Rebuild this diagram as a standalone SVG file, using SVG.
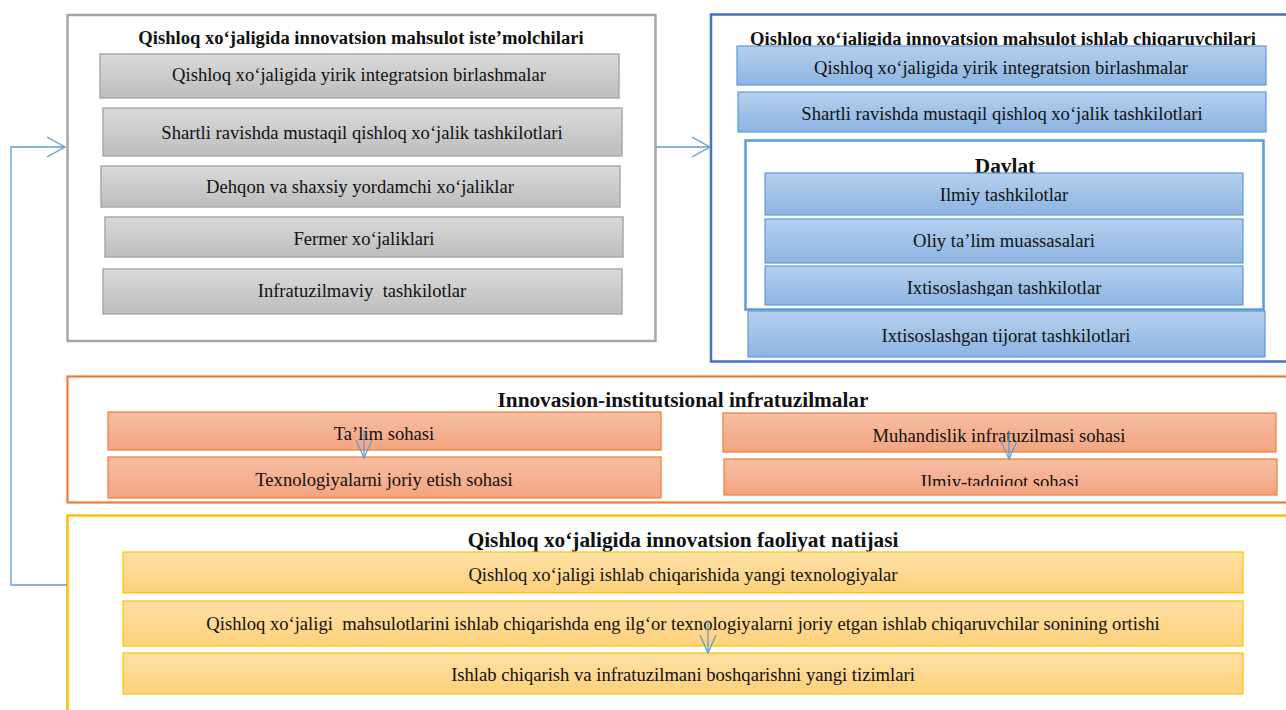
<svg xmlns="http://www.w3.org/2000/svg" width="1286" height="710" viewBox="0 0 1286 710">
<style>
text{font-family:"Liberation Serif","Times New Roman",serif;fill:#111;text-anchor:middle}
.t{font-size:18.6px}
.h{font-size:18.6px;font-weight:bold}
.H{font-size:21.3px;font-weight:bold}
.gray{fill:url(#gG);stroke:#a9a9a9;stroke-width:1.5}
.blue{fill:url(#gB);stroke:#5b9bd5;stroke-width:1.2}
.or{fill:url(#gO);stroke:#ed7d31;stroke-width:1.2}
.ye{fill:url(#gY);stroke:#ffc000;stroke-width:1.2}
.con{fill:none;stroke:#5b9bd5;stroke-width:1.3}
</style>
<defs>
<linearGradient id="gG" x1="0" y1="0" x2="0" y2="1"><stop offset="0" stop-color="#dadada"/><stop offset="1" stop-color="#bdbdbd"/></linearGradient>
<linearGradient id="gB" x1="0" y1="0" x2="0" y2="1"><stop offset="0" stop-color="#b5cfee"/><stop offset="1" stop-color="#8db4e2"/></linearGradient>
<linearGradient id="gO" x1="0" y1="0" x2="0" y2="1"><stop offset="0" stop-color="#f7bea4"/><stop offset="1" stop-color="#f3a480"/></linearGradient>
<linearGradient id="gY" x1="0" y1="0" x2="0" y2="1"><stop offset="0" stop-color="#fee0a6"/><stop offset="1" stop-color="#fdd17a"/></linearGradient>
<marker id="ah" markerUnits="userSpaceOnUse" markerWidth="22" markerHeight="24" refX="18" refY="11" orient="auto"><path d="M0,1 L18,11 L0,21" fill="none" stroke="#5b9bd5" stroke-width="1.3"/></marker>
<marker id="as" markerUnits="userSpaceOnUse" markerWidth="22" markerHeight="20" refX="18" refY="9" orient="auto"><path d="M0,1 L18,9 L0,17" fill="none" stroke="#5b9bd5" stroke-width="1.2"/></marker>
<clipPath id="c1"><rect x="760" y="260" width="500" height="36"/></clipPath>
<clipPath id="c2"><rect x="720" y="455" width="560" height="31"/></clipPath>
</defs>

<g id="consumers">
<rect x="67.5" y="15" width="588" height="326" fill="#fff" stroke="#a6a6a6" stroke-width="2.5"/>
<text class="h" x="361" y="44">Qishloq xo‘jaligida innovatsion mahsulot iste’molchilari</text>
<rect class="gray" x="100" y="54" width="519" height="44"/>
<text class="t" x="359" y="81">Qishloq xo‘jaligida yirik integratsion birlashmalar</text>
<rect class="gray" x="103" y="108" width="519" height="48"/>
<text class="t" x="362" y="139">Shartli ravishda mustaqil qishloq xo‘jalik tashkilotlari</text>
<rect class="gray" x="101" y="166" width="519" height="41"/>
<text class="t" x="360" y="193">Dehqon va shaxsiy yordamchi xo‘jaliklar</text>
<rect class="gray" x="105" y="217" width="518" height="40"/>
<text class="t" x="364" y="245">Fermer xo‘jaliklari</text>
<rect class="gray" x="103" y="269" width="519" height="45"/>
<text class="t" x="362" y="297" xml:space="preserve">Infratuzilmaviy  tashkilotlar</text>
</g>

<g id="producers">
<rect x="711" y="14.5" width="590" height="347" fill="#fff" stroke="#4472c4" stroke-width="2.5"/>
<text class="h" x="1003" y="45">Qishloq xo‘jaligida innovatsion mahsulot ishlab chiqaruvchilari</text>
<rect class="blue" x="737" y="46" width="529" height="39"/>
<text class="t" x="1001" y="74">Qishloq xo‘jaligida yirik integratsion birlashmalar</text>
<rect class="blue" x="738" y="92" width="528" height="40"/>
<text class="t" x="1002" y="120">Shartli ravishda mustaqil qishloq xo‘jalik tashkilotlari</text>
<g id="davlat">
<rect x="745.5" y="140.5" width="518" height="169" fill="#fff" stroke="#5b9bd5" stroke-width="2.5"/>
<text class="H" x="1005" y="173">Davlat</text>
<rect class="blue" x="765" y="173" width="478" height="42"/>
<text class="t" x="1004" y="201">Ilmiy tashkilotlar</text>
<rect class="blue" x="765" y="219" width="478" height="44"/>
<text class="t" x="1004" y="247">Oliy ta’lim muassasalari</text>
<rect class="blue" x="765" y="266" width="478" height="39"/>
<text class="t" x="1004" y="294" clip-path="url(#c1)">Ixtisoslashgan tashkilotlar</text>
</g>
<rect class="blue" x="748" y="311" width="517" height="46"/>
<text class="t" x="1006" y="342">Ixtisoslashgan tijorat tashkilotlari</text>
</g>

<g id="infra">
<rect x="67.5" y="376.5" width="1230" height="126" fill="#fff" stroke="#ed7d31" stroke-width="2.2"/>
<text class="H" x="683" y="407">Innovasion-institutsional infratuzilmalar</text>
<rect class="or" x="108" y="412" width="553" height="38"/>
<text class="t" x="384" y="440">Ta’lim sohasi</text>
<rect class="or" x="108" y="457" width="553" height="41"/>
<text class="t" x="384" y="486">Texnologiyalarni joriy etish sohasi</text>
<rect class="or" x="723" y="413" width="553" height="39"/>
<text class="t" x="999" y="442">Muhandislik infratuzilmasi sohasi</text>
<rect class="or" x="724" y="459" width="553" height="36"/>
<text class="t" x="1000" y="488" clip-path="url(#c2)">Ilmiy-tadqiqot sohasi</text>
</g>

<g id="results">
<rect x="67.5" y="515.5" width="1230" height="210" fill="#fff" stroke="#ffc000" stroke-width="2.5"/>
<text class="H" x="683" y="547">Qishloq xo‘jaligida innovatsion faoliyat natijasi</text>
<rect class="ye" x="123" y="552" width="1120" height="41"/>
<text class="t" x="683" y="581">Qishloq xo‘jaligi ishlab chiqarishida yangi texnologiyalar</text>
<rect class="ye" x="123" y="601" width="1120" height="45"/>
<text class="t" x="683" y="630" xml:space="preserve">Qishloq xo‘jaligi  mahsulotlarini ishlab chiqarishda eng ilg‘or texnologiyalarni joriy etgan ishlab chiqaruvchilar sonining ortishi</text>
<rect class="ye" x="123" y="653" width="1120" height="41"/>
<text class="t" x="683" y="681">Ishlab chiqarish va infratuzilmani boshqarishni yangi tizimlari</text>
</g>

<g id="connectors">
<path class="con" d="M67,585 H11 V147 H65" marker-end="url(#ah)"/>
<path class="con" d="M656,147 H710" marker-end="url(#ah)"/>
<path class="con" d="M364,430 V458" marker-end="url(#as)"/>
<path class="con" d="M1009,432 V459" marker-end="url(#as)"/>
<path class="con" d="M708,620 V653" marker-end="url(#as)"/>
</g>
</svg>
